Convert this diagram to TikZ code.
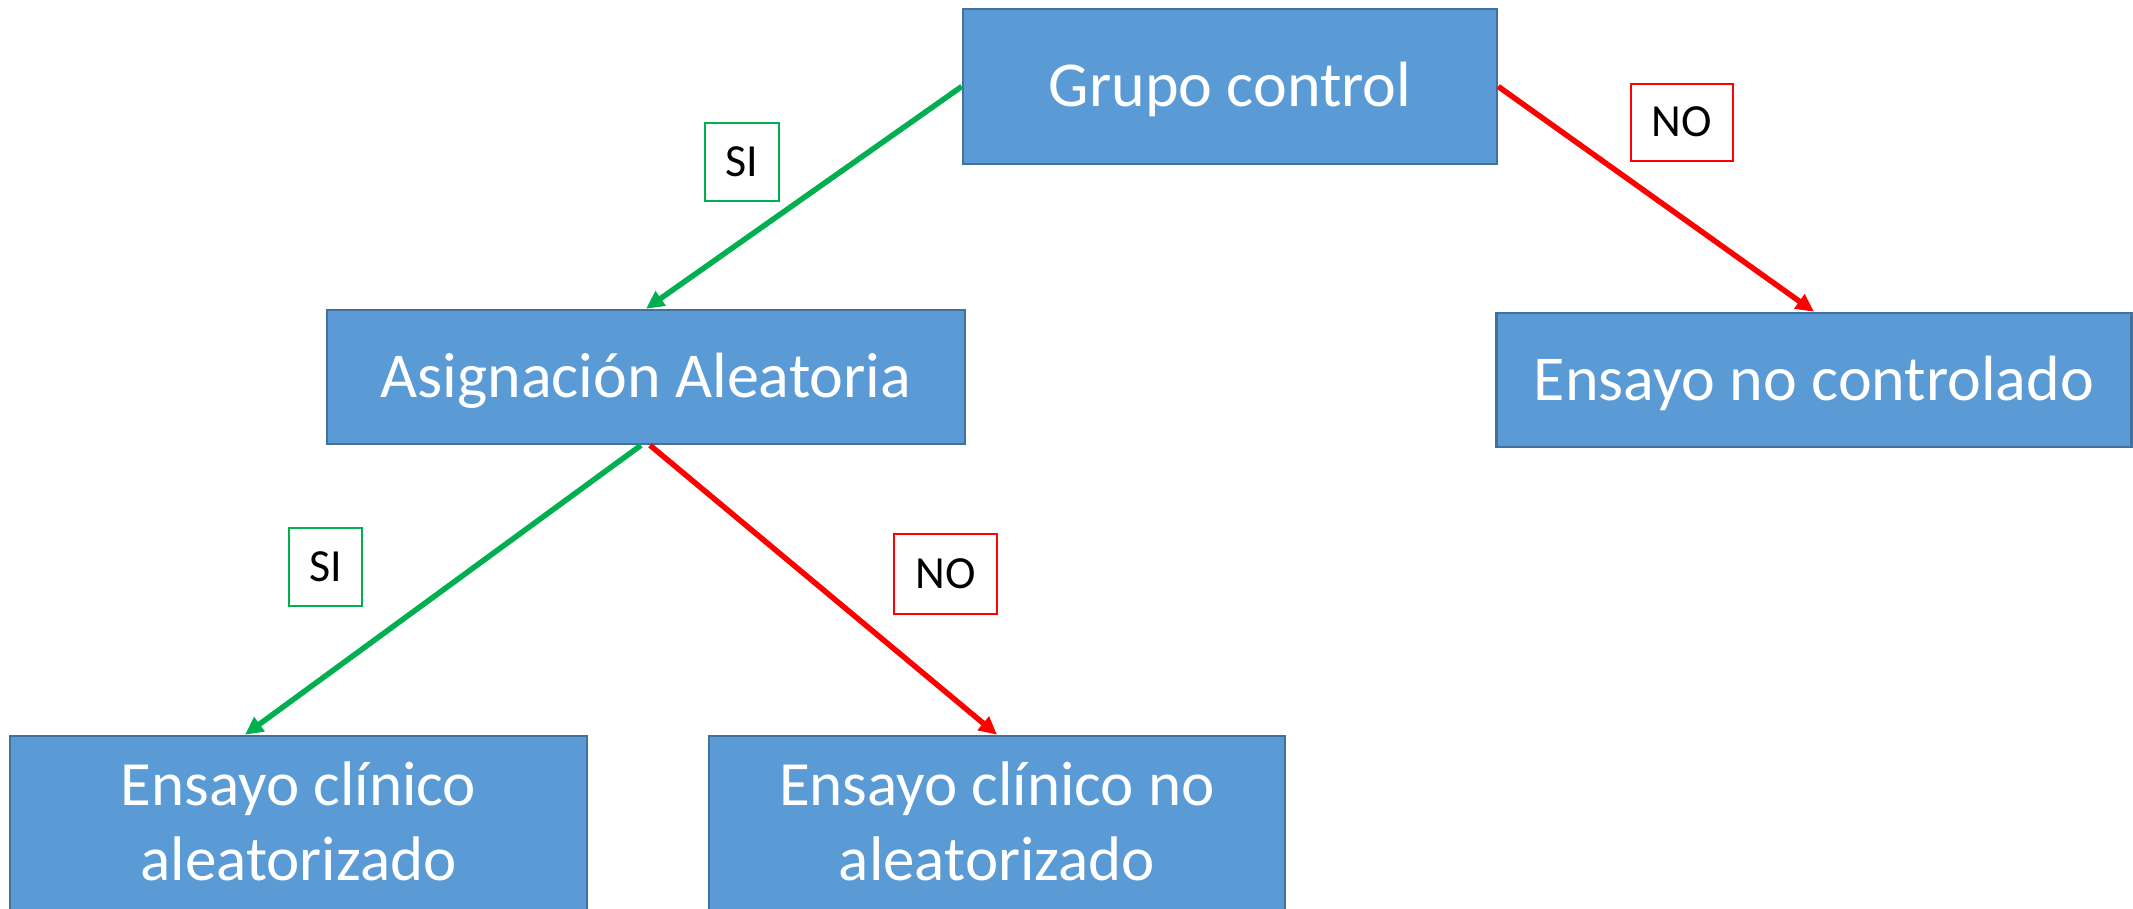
\documentclass[tikz,border=0pt]{standalone}
\usepackage{fontspec}
\setmainfont{Carlito}
\usetikzlibrary{arrows.meta,calc}
\definecolor{boxfill}{HTML}{5B9BD5}
\definecolor{boxline}{HTML}{41719C}
\definecolor{sigreen}{HTML}{00B050}
\definecolor{nored}{HTML}{FF0000}
\begin{document}
\begin{tikzpicture}[x=1pt,y=-1pt,
 box/.style={draw=boxline,line width=2.5pt,fill=boxfill,text=white,font=\fontsize{64pt}{76pt}\selectfont,inner sep=0pt,align=center,text height=40.5pt,text depth=0pt},
 lowbox/.style={box,font=\fontsize{63pt}{75pt}\selectfont,text height=144pt,text depth=50pt,anchor=base},
 tag/.style={draw,line width=1.8pt,fill=white,text=black,font=\fontsize{46pt}{52pt}\selectfont,inner sep=0pt,text height=29pt,text depth=0pt},
 link/.style={line width=5.5pt,-{Triangle[length=18pt,width=17pt]}}
]
\useasboundingbox (0,0) rectangle (2133,909);
\clip (0,0) rectangle (2133,909);
\node[box,minimum width=534pt,minimum height=155pt] (gc) at (1230,86.5) {Grupo control};
\node[box,minimum width=638pt,minimum height=134pt] (aa) at (646,377) {Asignación Aleatoria};
\node[box,minimum width=635pt,minimum height=134pt] (nc) at (1814,380) {Ensayo no controlado};
\node[lowbox,minimum width=577pt] (ca) at (298.5,880) {Ensayo clínico\\aleatorizado};
\node[lowbox,minimum width=576pt] (cn) at (997,880) {Ensayo clínico no\\aleatorizado};
\draw[link,sigreen] (gc.west) -- (aa.north);
\draw[link,nored] (gc.east) -- (nc.north);
\draw[link,sigreen] ($(aa.south)+(-5,0)$) -- ($(ca.north)+(-53.5,0)$);
\draw[link,nored] ($(aa.south)+(4,0)$) -- (cn.north);
\node[tag,draw=sigreen,minimum width=74pt,minimum height=78pt] (si1) at (742,162) {SI};
\node[tag,draw=nored,minimum width=102pt,minimum height=77pt] (no1) at (1682,122.5) {NO};
\node[tag,draw=sigreen,minimum width=73pt,minimum height=78pt] (si2) at (325.5,567) {SI};
\node[tag,draw=nored,minimum width=103pt,minimum height=80pt] (no2) at (945.5,574) {NO};
\end{tikzpicture}
\end{document}
